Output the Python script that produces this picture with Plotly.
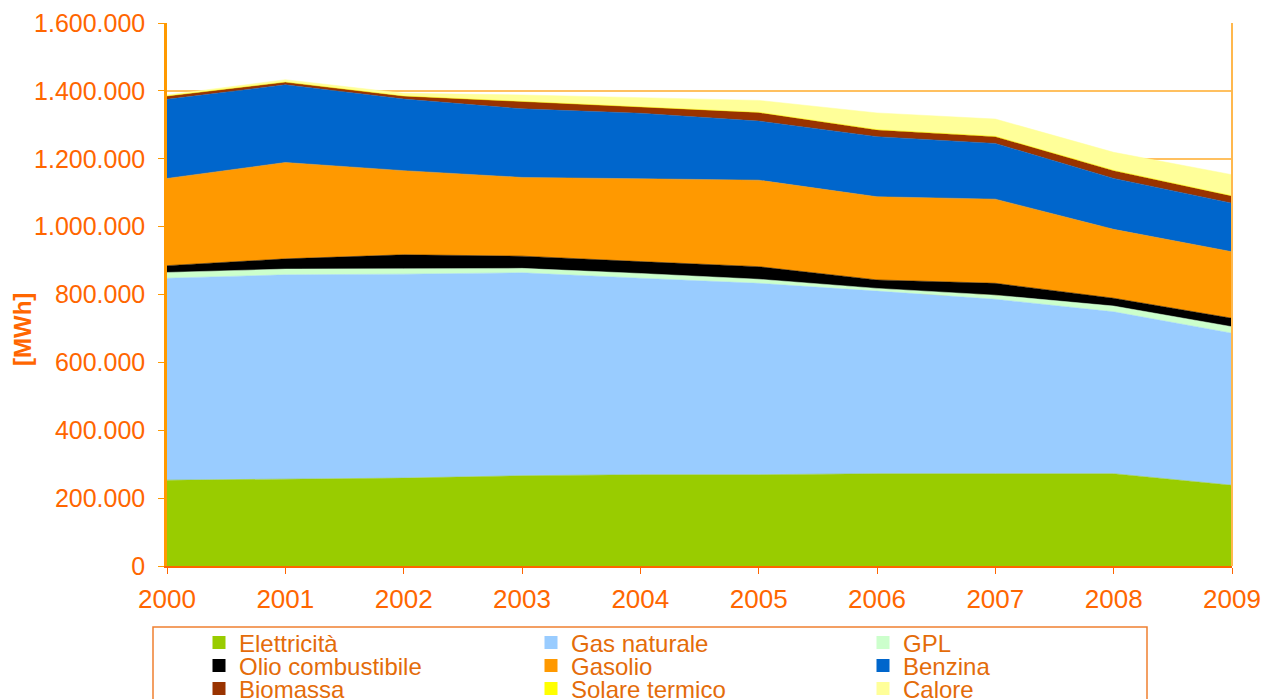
import plotly.graph_objects as go

# Consumi energetici per vettore [MWh]
anni = [2000, 2001, 2002, 2003, 2004, 2005, 2006, 2007, 2008, 2009]

elettricita = [253000, 255000, 259000, 266000, 269000, 269000, 272000, 272000, 272000, 238000]
gas_naturale = [595000, 603000, 601000, 598000, 579000, 564000, 538000, 514000, 477000, 448000]
gpl = [17000, 17000, 16000, 13000, 14000, 12000, 8000, 12000, 17000, 19000]
olio_combustibile = [20000, 30000, 41000, 36000, 35000, 37000, 25000, 35000, 23000, 25000]
gasolio = [257000, 284000, 248000, 232000, 244000, 255000, 245000, 248000, 203000, 196000]
benzina = [233000, 229000, 211000, 202000, 193000, 174000, 177000, 164000, 150000, 143000]
biomassa = [10000, 8000, 9000, 21000, 19000, 25000, 20000, 20000, 23000, 21000]
solare_termico = [0, 0, 0, 0, 0, 1000, 1000, 1000, 1000, 1000]
calore = [3000, 7000, 8000, 20000, 27000, 35000, 49000, 51000, 53000, 62000]

series = [
    ("Elettricità", elettricita, "#99CC00"),
    ("Gas naturale", gas_naturale, "#99CCFF"),
    ("GPL", gpl, "#CCFFCC"),
    ("Olio combustibile", olio_combustibile, "#000000"),
    ("Gasolio", gasolio, "#FF9900"),
    ("Benzina", benzina, "#0066CC"),
    ("Biomassa", biomassa, "#993300"),
    ("Solare termico", solare_termico, "#FFFF00"),
    ("Calore", calore, "#FFFF99"),
]

ORANGE = "#FF6600"
LEG_TXT = "#E46C0A"

W, H = 1263, 699
L, R, T, B = 167, 31, 23, 133
pw, ph = W - L - R, H - T - B

def px_x(x):
    return (x - L) / pw

def px_y(y):
    return (H - B - y) / ph

fig = go.Figure()
for name, vals, col in series:
    fig.add_trace(go.Scatter(
        x=anni, y=vals, name=name, mode="lines", showlegend=False,
        stackgroup="one", line=dict(width=0.5, color=col), fillcolor=col,
    ))

# voci di legenda con quadratini, tre per riga (una legenda per riga)
leg_ids = ["legend", "legend2", "legend3"]
for i, (name, vals, col) in enumerate(series):
    fig.add_trace(go.Scatter(
        x=[None], y=[None], name=name, mode="markers",
        marker=dict(symbol="square", size=13, color=col),
        legend=leg_ids[i // 3], showlegend=True,
    ))

def leg(y):
    return dict(
        orientation="h", traceorder="normal",
        x=px_x(199), y=px_y(y), xanchor="left", yanchor="middle",
        entrywidth=287, entrywidthmode="pixels",
        font=dict(size=24, color=LEG_TXT, family="Arial, Liberation Sans"),
        bgcolor="rgba(0,0,0,0)", borderwidth=0,
    )

fig.update_layout(
    width=W, height=H,
    margin=dict(l=L, r=R, t=T, b=B, autoexpand=False),
    plot_bgcolor="white", paper_bgcolor="white",
    separators=",.",
    font=dict(family="Arial, Liberation Sans", color=ORANGE),
    legend=leg(643), legend2=leg(666), legend3=leg(689),
    xaxis=dict(
        range=[2000, 2009], tickmode="array", tickvals=anni,
        ticktext=[str(a) for a in anni],
        showgrid=False, zeroline=False,
        showline=True, linecolor=ORANGE, linewidth=2,
        ticks="outside", ticklen=6, tickcolor=ORANGE,
        ticklabelstandoff=3,
        tickfont=dict(size=26, color=ORANGE),
    ),
    yaxis=dict(
        range=[0, 1600000], dtick=200000, tickformat=",d",
        showgrid=True, gridcolor="#FFC060", gridwidth=1.5,
        zeroline=False,
        showline=True, linecolor="#FF9900", linewidth=2.5,
        ticks="outside", ticklen=6, tickcolor="#FF9900",
        ticklabelstandoff=8,
        tickfont=dict(size=25, color=ORANGE),
    ),
)

# titolo asse y
fig.add_annotation(text="<b>[MWh]</b>", xref="paper", yref="paper",
                   x=px_x(22), y=px_y(330), xanchor="center", yanchor="middle",
                   textangle=-90, showarrow=False,
                   font=dict(size=24, color=ORANGE))

# bordo destro dell'area del grafico e cornice della legenda
fig.add_shape(type="line", xref="paper", yref="paper", x0=1, x1=1, y0=0, y1=1,
              line=dict(color="#FFB84D", width=2))
fig.add_shape(type="rect", xref="paper", yref="paper",
              x0=px_x(153), x1=px_x(1147), y0=px_y(627), y1=px_y(720),
              line=dict(color="#F08030", width=1.5))

fig.write_html("out.html", config={"displayModeBar": False},
               post_script="document.body.style.margin='0';")
